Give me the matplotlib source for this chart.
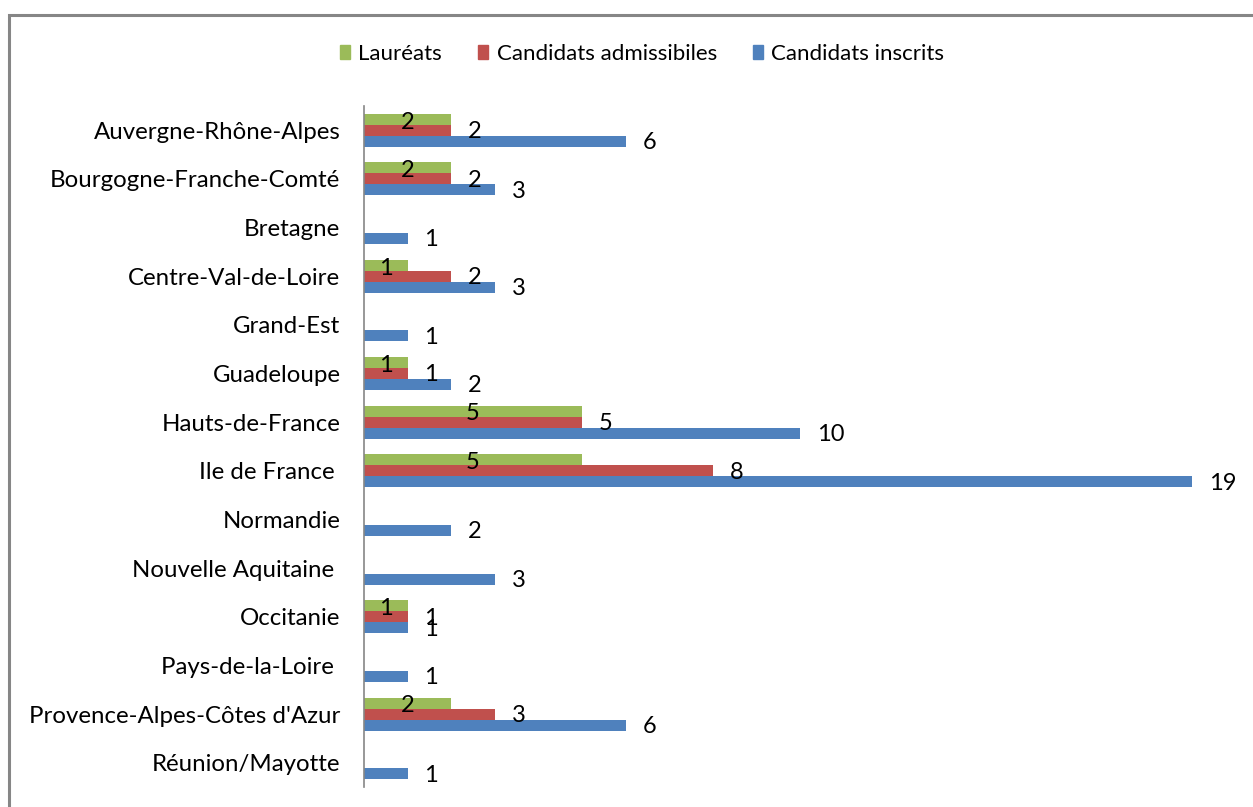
import numpy as np
import matplotlib
matplotlib.use("Agg")
import matplotlib.pyplot as plt
from matplotlib.patches import Rectangle, Patch

plt.rcParams['font.family'] = ['Lato', 'DejaVu Sans']

regions = ["Auvergne-Rhône-Alpes", "Bourgogne-Franche-Comté", "Bretagne",
           "Centre-Val-de-Loire", "Grand-Est", "Guadeloupe", "Hauts-de-France",
           "Ile de France ", "Normandie", "Nouvelle Aquitaine ", "Occitanie",
           "Pays-de-la-Loire ", "Provence-Alpes-Côtes d'Azur", "Réunion/Mayotte"]
laureats = [2, 2, 0, 1, 0, 1, 5, 5, 0, 0, 1, 0, 2, 0]
admissibles = [2, 2, 0, 2, 0, 1, 5, 8, 0, 0, 1, 0, 3, 0]
inscrits = [6, 3, 1, 3, 1, 2, 10, 19, 2, 3, 1, 1, 6, 1]

c_green = '#9BBB59'
c_red = '#C0504D'
c_blue = '#4F81BD'

fig = plt.figure(figsize=(12.53, 8.07), dpi=100)
ax = fig.add_axes([364/1253, 1-787/807, (1236-364)/1253, (787-106)/807])

y = np.arange(len(regions))
h = 0.226
ax.barh(y - h, laureats, height=h, color=c_green)
ax.barh(y, admissibles, height=h, color=c_red)
ax.barh(y + h, inscrits, height=h, color=c_blue)

# etiquettes de valeurs (pas d'etiquette pour les zeros)
for i in range(len(regions)):
    if laureats[i]:
        ax.annotate(str(laureats[i]), (laureats[i] / 2, y[i] - h), xytext=(0, -2),
                    textcoords='offset points', ha='center', va='center', fontsize=17)
    if admissibles[i]:
        ax.annotate(str(admissibles[i]), (admissibles[i], y[i]), xytext=(12, -1),
                    textcoords='offset points', ha='left', va='center', fontsize=17)
    ax.annotate(str(inscrits[i]), (inscrits[i], y[i] + h), xytext=(12, -1),
                textcoords='offset points', ha='left', va='center', fontsize=17)

ax.set_xlim(0, 20)
ax.set_ylim(len(regions) - 0.5, -0.5)
ax.set_yticks(y)
ax.set_yticklabels(regions, fontsize=17.3)
ax.tick_params(axis='y', length=0, pad=17)
ax.set_xticks([])
for s in ['top', 'right', 'bottom']:
    ax.spines[s].set_visible(False)
ax.spines['left'].set_color('#868686')
ax.spines['left'].set_linewidth(1.2)

handles = [Patch(color=c_green, label='Lauréats'),
           Patch(color=c_red, label='Candidats admissibiles'),
           Patch(color=c_blue, label='Candidats inscrits')]
fig.legend(handles=handles, loc='center', bbox_to_anchor=(642/1253, 1-54/807),
           ncol=3, frameon=False, fontsize=16, handlelength=0.45, handleheight=0.55,
           handletextpad=0.4, columnspacing=1.6)

fig.patches.append(Rectangle((9/1253, -0.1), 2, 1.1 - 15/807, transform=fig.transFigure,
                             fill=False, edgecolor='#868686', lw=2.2))

fig.savefig('out.png', dpi=100)
